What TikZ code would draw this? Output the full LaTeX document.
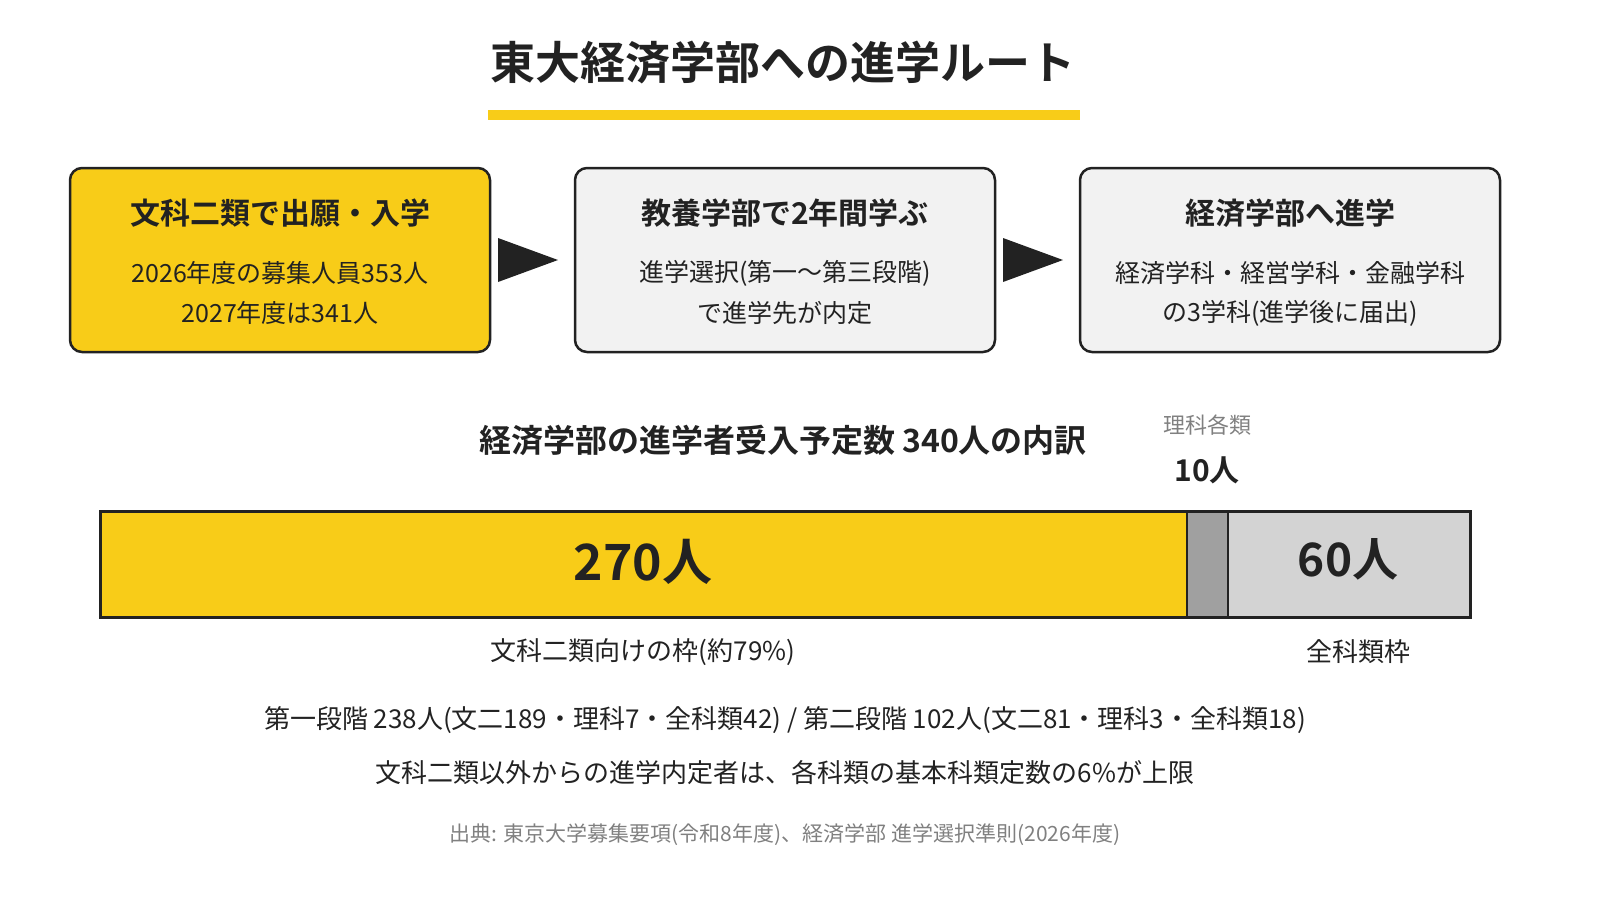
\documentclass[tikz,border=0pt]{standalone}
\usepackage{fontspec}
\setmainfont{Noto Sans CJK JP}[BoldFont={Noto Sans CJK JP Bold}]
\definecolor{ylw}{HTML}{F8CC18}
\definecolor{dk}{HTML}{222222}
\definecolor{boxg}{HTML}{F2F2F2}
\definecolor{midg}{HTML}{A0A0A0}
\definecolor{lg}{HTML}{D3D3D3}
\definecolor{txg}{HTML}{808080}
\begin{document}
\begin{tikzpicture}[x=1pt,y=-1pt,
  box/.style={draw=dk,line width=2.5pt,rounded corners=12pt},
  btitle/.style={font=\fontsize{30}{34}\selectfont\bfseries,text=dk},
  bline/.style={font=\fontsize{25}{30}\selectfont,text=dk},
  arr/.style={fill=dk},
  t26/.style={font=\fontsize{26}{30}\selectfont,text=dk}]
\useasboundingbox (0,0) rectangle (1600,900);
\node[font=\fontsize{45}{50}\selectfont\bfseries,text=dk] (title) at (783,63) {東大経済学部への進学ルート};
\fill[ylw] (488,110) rectangle (1080,120);
% boxes
\draw[box,fill=ylw] (70,168) rectangle (490,352);
\draw[box,fill=boxg] (575,168) rectangle (995,352);
\draw[box,fill=boxg] (1080,168) rectangle (1500,352);
\node[btitle] (t1) at (280,213) {文科二類で出願・入学};
\node[bline] (a1) at (280,273) {2026年度の募集人員353人};
\node[bline] (b1) at (280,313) {2027年度は341人};
\node[btitle] (t2) at (785,213) {教養学部で2年間学ぶ};
\node[bline] (a2) at (785,273) {進学選択(第一〜第三段階)};
\node[bline] (b2) at (785,313) {で進学先が内定};
\node[btitle] (t3) at (1290,213) {経済学部へ進学};
\node[bline] (a3) at (1290,273) {経済学科・経営学科・金融学科};
\node[bline] (b3) at (1290,313) {の3学科(進学後に届出)};
\fill[arr] (498,238) -- (558,260) -- (498,282) -- cycle;
\fill[arr] (1003,238) -- (1063,260) -- (1003,282) -- cycle;
% heading
\node[font=\fontsize{32}{36}\selectfont\bfseries,text=dk] (h) at (783,440) {経済学部の進学者受入予定数 340人の内訳};
\node[font=\fontsize{22}{26}\selectfont,text=txg] (rk) at (1207,425) {理科各類};
\node[font=\fontsize{30}{34}\selectfont\bfseries,text=dk] (rk10) at (1207,470) {10人};
% bar
\fill[ylw] (100,511) rectangle (1187,617);
\fill[midg] (1187,511) rectangle (1228,617);
\fill[lg] (1228,511) rectangle (1470,617);
\draw[dk,line width=1.5pt] (1187,511) -- (1187,617) (1228,511) -- (1228,617);
\draw[dk,line width=3pt] (100,511) rectangle (1470,617);
\node[font=\fontsize{50}{56}\selectfont\bfseries,text=dk] (n270) at (643,562) {270人};
\node[font=\fontsize{46}{52}\selectfont\bfseries,text=dk] (n60) at (1348,559) {60人};
\node[t26] (l1) at (643,652) {文科二類向けの枠(約79\%)};
\node[t26] (l2) at (1358,652) {全科類枠};
\node[t26] (s1) at (785,720) {第一段階 238人(文二189・理科7・全科類42) / 第二段階 102人(文二81・理科3・全科類18)};
\node[t26] (s2) at (785,773) {文科二類以外からの進学内定者は、各科類の基本科類定数の6\%が上限};
\node[font=\fontsize{21}{25}\selectfont,text=txg] (src) at (785,835) {出典: 東京大学募集要項(令和8年度)、経済学部 進学選択準則(2026年度)};
\end{tikzpicture}
\end{document}
